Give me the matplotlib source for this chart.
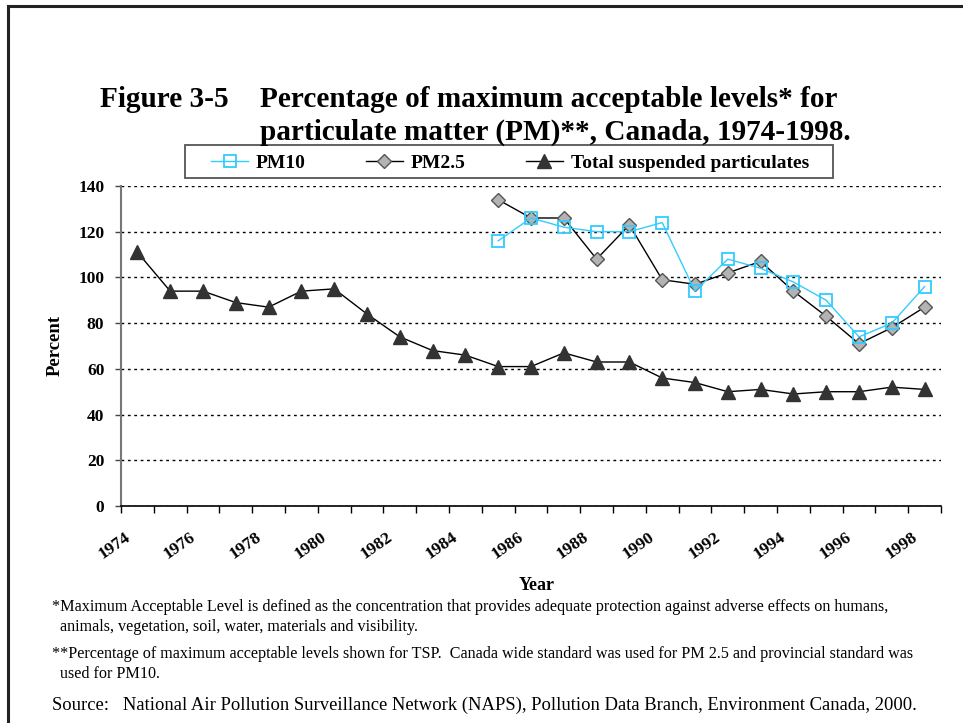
import matplotlib.pyplot as plt
from matplotlib.lines import Line2D
from matplotlib.patches import Rectangle
from matplotlib.transforms import ScaledTranslation
import numpy as np

years = list(range(1974, 1999))
tsp = [111, 94, 94, 89, 87, 94, 95, 84, 74, 68, 66, 61, 61, 67, 63, 63,
       56, 54, 50, 51, 49, 50, 50, 52, 51]
pm25_years = list(range(1985, 1999))
pm25 = [134, 126, 126, 108, 123, 99, 97, 102, 107, 94, 83, 71, 78, 87]
pm10_years = list(range(1985, 1999))
pm10 = [116, 126, 122, 120, 120, 124, 94, 108, 104, 98, 90, 74, 80, 96]
yticks = [0, 20, 40, 60, 80, 100, 120, 140]

W, H = 963, 723
SERIF = "Liberation Serif"
CYAN = "#33ccff"

fig = plt.figure(figsize=(W / 100, H / 100), dpi=100)
fig.patch.set_facecolor("white")


def fx(px):
    return px / W


def fy(py):
    return 1 - py / H


# page frame (only top and left edges show)
fig.add_artist(Line2D([fx(8), 1], [fy(6), fy(6)], color="#222222", lw=2.2))
fig.add_artist(Line2D([fx(8), fx(8)], [fy(6), 0], color="#222222", lw=2.2))

ax = fig.add_axes([fx(121), fy(506), fx(941) - fx(121), fy(186) - fy(506)])

pos = {y: i for i, y in enumerate(years)}
x_tsp = [pos[y] for y in years]
x_25 = [pos[y] for y in pm25_years]
x_10 = [pos[y] for y in pm10_years]

tsp_style = dict(color="black", lw=1, marker="^", ms=9.5, mfc="#333333", mec="#333333")
pm25_style = dict(color="black", lw=1, marker="D", ms=7, mfc="#b3b3b3",
                  mec="#555555", mew=1)
pm10_style = dict(color=CYAN, lw=1, marker="s", ms=9, mfc="none", mec=CYAN, mew=1.3)

ax.plot(x_tsp, tsp, zorder=3, **tsp_style)
ax.plot(x_25, pm25, zorder=4, **pm25_style)
ax.plot(x_10, pm10, zorder=5, **pm10_style)

ax.set_xlim(-0.5, len(years) - 0.5)
ax.set_ylim(0, 140)
ax.set_yticks(yticks)
ax.set_yticklabels([str(v) for v in yticks], fontfamily=SERIF,
                   fontweight="bold", fontsize=12.5)
ax.yaxis.grid(True, color="black", linestyle=(0, (2, 2.6)), lw=1)
ax.set_axisbelow(True)

ax.set_xticks(np.arange(-0.5, len(years), 1), minor=True)
major = [pos[y] for y in years if y % 2 == 0]
ax.set_xticks(major)
ax.set_xticklabels([str(y) for y in years if y % 2 == 0], rotation=35,
                   ha="right", va="center", rotation_mode="anchor",
                   fontfamily=SERIF, fontweight="bold", fontsize=12.5)
ax.tick_params(axis="x", which="major", length=0, pad=21.5)
ax.tick_params(axis="x", which="minor", length=5, width=1, color="black",
               direction="out")
ax.tick_params(axis="y", length=4, width=1, color="#444444", direction="out", pad=8)
shift = ScaledTranslation(-9 / 100, 0, fig.dpi_scale_trans)
for lab in ax.get_xticklabels():
    lab.set_transform(lab.get_transform() + shift)

for s in ("top", "right"):
    ax.spines[s].set_visible(False)
ax.spines["left"].set_color("#777777")
ax.spines["left"].set_linewidth(1.5)
ax.spines["bottom"].set_color("black")
ax.spines["bottom"].set_linewidth(1.2)

fig.text(fx(55), fy(345), "Percent", family=SERIF, weight="bold", fontsize=13.5,
         rotation=90, ha="center", va="center")
fig.text(fx(537), fy(585), "Year", family=SERIF, weight="bold", fontsize=13,
         ha="center", va="center")

# legend: frame drawn as a separate box
fig.add_artist(Rectangle((fx(185), fy(178)), fx(833) - fx(185), fy(145) - fy(178),
                         transform=fig.transFigure, fill=False,
                         edgecolor="#555555", lw=1.3))
h10 = Line2D([], [], **pm10_style)
h25 = Line2D([], [], **pm25_style)
htsp = Line2D([], [], **tsp_style)
fig.legend([h10, h25, htsp], ["PM10", "PM2.5", "Total suspended particulates"],
           loc="center", ncol=3, bbox_to_anchor=(fx(510), fy(163)),
           prop={"family": SERIF, "weight": "bold", "size": 14},
           frameon=False, handlelength=1.9, handletextpad=0.4,
           borderpad=0, borderaxespad=0, columnspacing=3.1)

# titles
title_kw = dict(family=SERIF, weight="bold", fontsize=21.1, ha="left", va="baseline")
fig.text(fx(100), fy(107), "Figure 3-5", **title_kw)
fig.text(fx(260), fy(107), "Percentage of maximum acceptable levels* for", **title_kw)
fig.text(fx(260), fy(140), "particulate matter (PM)**, Canada, 1974-1998.", **title_kw)

# footnotes
note_kw = dict(family=SERIF, fontsize=11.6, ha="left", va="baseline")
fig.text(fx(52), fy(611), "*Maximum Acceptable Level is defined as the concentration "
         "that provides adequate protection against adverse effects on humans,", **note_kw)
fig.text(fx(60), fy(631), "animals, vegetation, soil, water, materials and visibility.",
         **note_kw)
fig.text(fx(52), fy(658), "**Percentage of maximum acceptable levels shown for TSP.  "
         "Canada wide standard was used for PM 2.5 and provincial standard was", **note_kw)
fig.text(fx(60), fy(678), "used for PM10.", **note_kw)
fig.text(fx(52), fy(710), "Source:   National Air Pollution Surveillance Network (NAPS), "
         "Pollution Data Branch, Environment Canada, 2000.",
         family=SERIF, fontsize=13.4, ha="left", va="baseline")

fig.savefig("out.png", dpi=100)
